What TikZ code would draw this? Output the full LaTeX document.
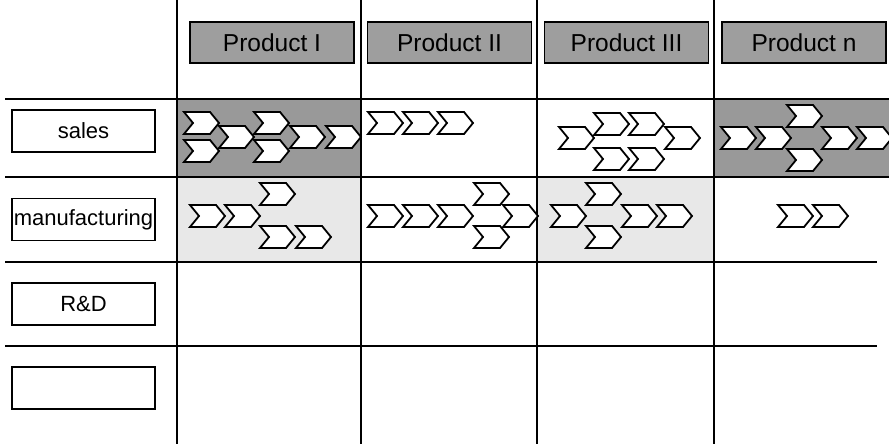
\documentclass[tikz,border=0pt]{standalone}
\usepackage{fontspec}
\setmainfont{Liberation Sans}
\definecolor{hdrgray}{gray}{0.62}
\definecolor{cellgray}{gray}{0.6}
\definecolor{lightcell}{gray}{0.91}

\begin{document}
\begin{tikzpicture}[x = 1pt, y = -1pt,
    grid/.style = {line width = 1.2pt},
    header/.style = {draw, fill = hdrgray, line width = 1.2pt, minimum width = 164pt, minimum height = 41pt, inner sep = 0pt, font = \fontsize{24.5}{28}\selectfont},
    rowlabel/.style = {draw, fill = white, line width = 1.2pt, minimum width = 143pt, minimum height = 42pt, inner sep = 0pt, font = \fontsize{22}{26}\selectfont},
    chev/.style = {draw, fill = white, line width = 1.8pt, line join = miter}]
    \useasboundingbox (0, 0) rectangle (889, 444);
    \clip (0, 0) rectangle (889, 444);

    % shaded cells
    \fill[cellgray] (177, 99) rectangle (361, 177);
    \fill[cellgray] (714, 99) rectangle (889, 177);
    \fill[lightcell] (177, 177) rectangle (361, 262);
    \fill[lightcell] (537, 177) rectangle (714, 262);

    % table lines
    \draw[grid] (5, 99) -- (889, 99) (5, 177) -- (889, 177);
    \draw[grid] (5, 262) -- (877, 262) (5, 346) -- (877, 346);
    \foreach \x in {177, 361, 537, 714}
        \draw[grid] (\x, 0) -- (\x, 444);

    % products
    \node[header] (p1) at (272, 42.5){Product I};
    \node[header] (p2) at (449.5, 42.5){Product II};
    \node[header] (p3) at (626.5, 42.5){Product III};
    \node[header] (pn) at (804, 42.5){Product n};

    % functions
    \node[rowlabel] (sales) at (83.5, 131){sales};
    \node[rowlabel] (manu) at (83.5, 219.5){manufacturing};
    \node[rowlabel] (rd) at (83.5, 304){R\&D};
    \node[rowlabel] (blank) at (83.5, 388){};

    % process chevrons (left corner x / centre y)
    \foreach \x/\y in {184/123, 184/151, 219/137, 254/123, 254/151, 290/137, 326/137,
                       368/123, 403/123, 438/123,
                       559/138, 594/124, 629/124, 594/159, 629/159, 665/138,
                       721/138, 756/138, 787/116, 787/160, 822/138, 857/138,
                       190/216, 225/216, 260/194, 260/237, 296/237,
                       368/216, 403/216, 438/216, 474/194, 474/237, 503/216,
                       551/216, 586/194, 586/237, 622/216, 657/216,
                       778/216, 813/216}
        \draw[chev] (\x, \y) ++(0, -11) -- ++(26, 0) -- ++(9, 11) -- ++(-9, 11) -- ++(-26, 0) -- ++(9, -11) -- cycle;
\end{tikzpicture}
\end{document}
